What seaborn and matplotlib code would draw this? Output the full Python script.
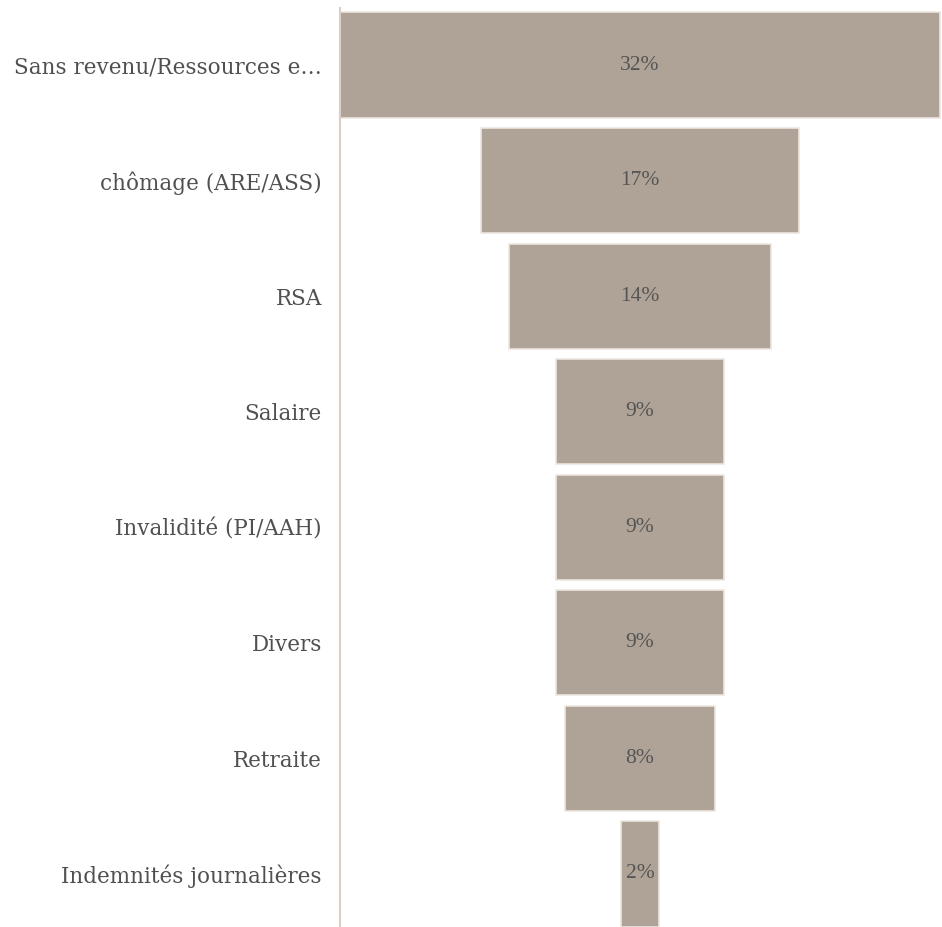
import matplotlib
matplotlib.use("Agg")
import matplotlib.pyplot as plt
import seaborn as sns
import pandas as pd

# Données du graphique en entonnoir
categories = ["Sans revenu/Ressources e…", "chômage (ARE/ASS)", "RSA", "Salaire",
              "Invalidité (PI/AAH)", "Divers", "Retraite", "Indemnités journalières"]
valeurs = [32, 17, 14, 9, 9, 9, 8, 2]
etiquettes = ["32%", "17%", "14%", "9%", "9%", "9%", "8%", "2%"]

sns.set_theme(style="white")
plt.rcParams['font.family'] = ['Liberation Serif', 'DejaVu Serif']

df = pd.DataFrame({"categorie": categories, "valeur": valeurs})
maxi = max(valeurs)
df["gauche"] = [(maxi - v) / 2 for v in valeurs]

fig = plt.figure(figsize=(9.42, 9.27), dpi=100, facecolor="white")
ax = fig.add_axes([340 / 942, 0, 602 / 942, 1 - 8 / 927])

cor = "#aea396"
ax.barh(range(len(df)), df["valeur"], left=df["gauche"], height=0.91,
        color=cor, edgecolor="#ece6e0", linewidth=1.2)

for i, (v, g, txt) in enumerate(zip(df["valeur"], df["gauche"], etiquettes)):
    ax.text(g + v / 2, i, txt, ha="center", va="center", fontsize=15.5, color="#555555")

ax.set_xlim(0, maxi + 0.1)
ax.set_ylim(7.459, -0.4935)
ax.set_yticks(range(len(df)))
ax.set_yticklabels(df["categorie"], fontsize=15.5, color="#505050",
                   family=['DejaVu Serif', 'Liberation Serif'])
ax.set_xticks([])
ax.tick_params(axis="y", length=0, pad=13)

for lado in ["top", "right", "bottom"]:
    ax.spines[lado].set_visible(False)
ax.spines["left"].set_color("#d9cfc5")
ax.spines["left"].set_linewidth(1.5)

plt.savefig("out.png", dpi=100, facecolor="white")
